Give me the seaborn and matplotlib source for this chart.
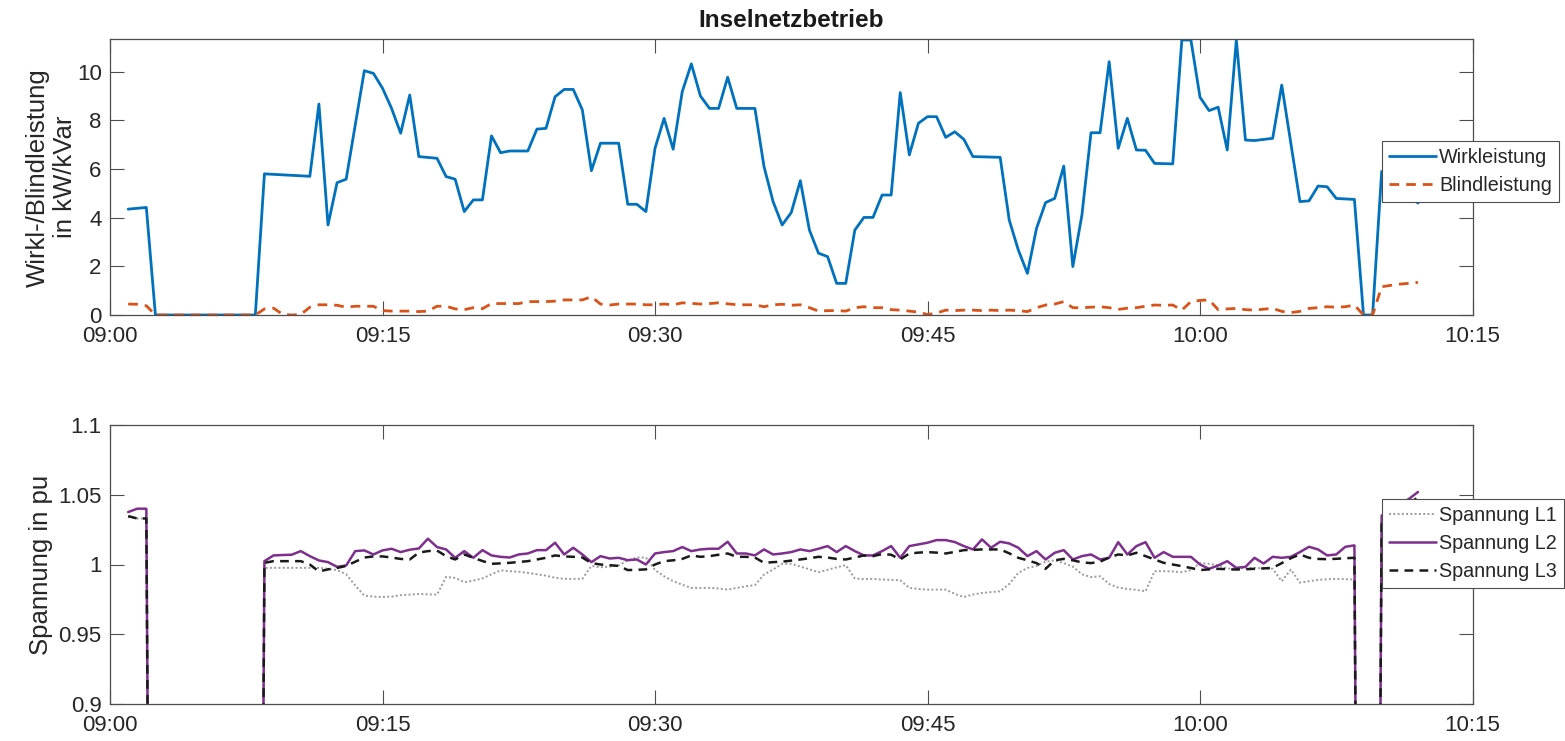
import numpy as np
import pandas as pd
import matplotlib
matplotlib.use('Agg')
import matplotlib.pyplot as plt
import matplotlib.dates as mdates
import seaborn as sns

sns.set_theme(style='white')
plt.rcParams['font.family'] = ['Liberation Sans', 'DejaVu Sans']

start = pd.Timestamp('2021-06-01 09:00')

# Wirkleistung (kW), Minuten nach 09:00
t_p = [1.0, 2.0, 2.5, 8.0, 8.5, 11.0, 11.5, 12.0, 12.5, 13.0, 14.0, 14.5, 15.0, 15.5,
       16.0, 16.5, 17.0, 18.0, 18.5, 19.0, 19.5, 20.0, 20.5, 21.0, 21.5, 22.0, 23.0,
       23.5, 24.0, 24.5, 25.0, 25.5, 26.0, 26.5, 27.0, 28.0, 28.5, 29.0, 29.5, 30.0,
       30.5, 31.0, 31.5, 32.0, 32.5, 33.0, 33.5, 34.0, 34.5, 35.5, 36.0, 36.5, 37.0,
       37.5, 38.0, 38.5, 39.0, 39.5, 40.0, 40.5, 41.0, 41.5, 42.0, 42.5, 43.0, 43.5,
       44.0, 44.5, 45.0, 45.5, 46.0, 46.5, 47.0, 47.5, 49.0, 49.5, 50.0, 50.5, 51.0,
       51.5, 52.0, 52.5, 53.0, 53.5, 54.0, 54.5, 55.0, 55.5, 56.0, 56.5, 57.0, 57.5,
       58.5, 59.0, 59.5, 60.0, 60.5, 61.0, 61.5, 62.0, 62.5, 63.0, 64.0, 64.5, 65.0,
       65.5, 66.0, 66.5, 67.0, 67.5, 68.5, 69.0, 69.5, 70.0, 72.0]
wirk = [4.35, 4.42, 0, 0, 5.8, 5.7, 8.67, 3.7, 5.44, 5.58, 10.04, 9.93, 9.32, 8.49,
        7.47, 9.04, 6.51, 6.44, 5.69, 5.58, 4.25, 4.73, 4.73, 7.36, 6.67, 6.74, 6.74,
        7.64, 7.67, 8.97, 9.27, 9.27, 8.43, 5.93, 7.06, 7.06, 4.55, 4.55, 4.25, 6.85,
        8.08, 6.81, 9.18, 10.32, 9.0, 8.49, 8.49, 9.77, 8.49, 8.49, 6.10, 4.66, 3.70,
        4.21, 5.52, 3.49, 2.54, 2.40, 1.30, 1.30, 3.49, 4.01, 4.01, 4.93, 4.93, 9.14,
        6.58, 7.88, 8.15, 8.15, 7.30, 7.53, 7.22, 6.51, 6.48, 3.90, 2.67, 1.71, 3.56,
        4.62, 4.79, 6.12, 1.99, 4.11, 7.49, 7.49, 10.41, 6.85, 8.08, 6.78, 6.77, 6.23,
        6.21, 11.3, 11.3, 8.95, 8.40, 8.54, 6.78, 11.3, 7.19, 7.17, 7.26, 9.45, 7.06,
        4.66, 4.69, 5.30, 5.27, 4.79, 4.75, 0, 0, 5.9, 4.6]

# Blindleistung (kVar)
t_q = [1.0, 1.5, 2.0, 2.5, 8.0, 8.5, 9.0, 9.5, 10.0, 10.5, 11.0, 11.5, 12.0, 12.5,
       13.0, 13.5, 14.0, 14.5, 15.0, 15.5, 16.0, 16.5, 17.0, 17.5, 18.0, 18.5, 19.0,
       19.5, 20.0, 20.5, 21.0, 21.5, 22.0, 22.5, 23.0, 23.5, 24.0, 24.5, 25.0, 25.5,
       26.0, 26.5, 27.0, 27.5, 28.0, 28.5, 29.0, 29.5, 30.0, 30.5, 31.0, 31.5, 32.0,
       32.5, 33.0, 33.5, 34.0, 34.5, 35.0, 35.5, 36.0, 36.5, 37.0, 37.5, 38.0, 38.5,
       39.0, 39.5, 40.0, 40.5, 41.0, 41.5, 42.0, 42.5, 43.0, 43.5, 44.0, 44.5, 45.0,
       45.5, 46.0, 46.5, 47.0, 47.5, 48.0, 48.5, 49.0, 49.5, 50.0, 50.5, 51.0, 51.5,
       52.0, 52.5, 53.0, 53.5, 54.0, 54.5, 55.0, 55.5, 56.0, 56.5, 57.0, 57.5, 58.0,
       58.5, 59.0, 59.5, 60.0, 60.5, 61.0, 61.5, 62.0, 62.5, 63.0, 63.5, 64.0, 64.5,
       65.0, 65.5, 66.0, 66.5, 67.0, 67.5, 68.0, 68.5, 69.0, 69.5, 70.0, 70.5, 71.0,
       71.5, 72.0]
blind = [0.45, 0.44, 0.38, 0, 0, 0.25, 0.28, 0.03, 0.0, 0.02, 0.32, 0.42, 0.42, 0.40,
         0.32, 0.36, 0.36, 0.36, 0.18, 0.16, 0.16, 0.16, 0.14, 0.16, 0.36, 0.36, 0.25,
         0.22, 0.30, 0.26, 0.47, 0.47, 0.47, 0.47, 0.55, 0.55, 0.55, 0.57, 0.62, 0.62,
         0.62, 0.75, 0.45, 0.41, 0.45, 0.45, 0.45, 0.42, 0.42, 0.45, 0.42, 0.50, 0.48,
         0.45, 0.47, 0.50, 0.46, 0.42, 0.42, 0.42, 0.34, 0.42, 0.44, 0.40, 0.42, 0.30,
         0.16, 0.18, 0.18, 0.16, 0.30, 0.34, 0.30, 0.30, 0.22, 0.20, 0.16, 0.12, 0.02,
         0.08, 0.20, 0.18, 0.20, 0.20, 0.18, 0.20, 0.18, 0.20, 0.18, 0.14, 0.30, 0.41,
         0.45, 0.55, 0.30, 0.30, 0.32, 0.34, 0.30, 0.23, 0.28, 0.30, 0.36, 0.41, 0.40,
         0.41, 0.20, 0.55, 0.60, 0.62, 0.22, 0.25, 0.27, 0.22, 0.20, 0.24, 0.27, 0.15,
         0.10, 0.15, 0.27, 0.30, 0.34, 0.32, 0.34, 0.41, 0, 0, 1.16, 1.22, 1.27,
         1.30, 1.34]

# Spannungen (pu)
t_u = [1.0, 1.5, 2.0, 2.5, 8.0, 8.5, 9.0, 9.5, 10.0, 10.5, 11.0, 11.5, 12.0, 12.5,
       13.0, 13.5, 14.0, 14.5, 15.0, 15.5, 16.0, 16.5, 17.0, 17.5, 18.0, 18.5, 19.0,
       19.5, 20.0, 20.5, 21.0, 21.5, 22.0, 22.5, 23.0, 23.5, 24.0, 24.5, 25.0, 25.5,
       26.0, 26.5, 27.0, 27.5, 28.0, 28.5, 29.0, 29.5, 30.0, 30.5, 31.0, 31.5, 32.0,
       32.5, 33.0, 33.5, 34.0, 34.5, 35.0, 35.5, 36.0, 36.5, 37.0, 37.5, 38.0, 38.5,
       39.0, 39.5, 40.0, 40.5, 41.0, 41.5, 42.0, 42.5, 43.0, 43.5, 44.0, 44.5, 45.0,
       45.5, 46.0, 46.5, 47.0, 47.5, 48.0, 48.5, 49.0, 49.5, 50.0, 50.5, 51.0, 51.5,
       52.0, 52.5, 53.0, 53.5, 54.0, 54.5, 55.0, 55.5, 56.0, 56.5, 57.0, 57.5, 58.0,
       58.5, 59.0, 59.5, 60.0, 60.5, 61.0, 61.5, 62.0, 62.5, 63.0, 63.5, 64.0, 64.5,
       65.0, 65.5, 66.0, 66.5, 67.0, 67.5, 68.0, 68.5, 69.0, 69.5, 70.0, 70.5, 71.0,
       71.5, 72.0]
u_l1 = [1.034, 1.033, 1.033, 0, 0, 0.9976, 0.9976, 0.9976, 0.9976, 0.9976, 0.9976,
        0.9976, 0.9969, 0.9960, 0.9930, 0.9850, 0.9777, 0.9770, 0.9767, 0.9770, 0.9780,
        0.9784, 0.9789, 0.9786, 0.9784, 0.9911, 0.9904, 0.9873, 0.9885, 0.9900, 0.9930,
        0.9958, 0.9952, 0.9948, 0.9940, 0.9930, 0.9920, 0.9905, 0.9897, 0.9897, 0.9897,
        0.9990, 0.9980, 0.9985, 0.9993, 1.0030, 1.0050, 1.0050, 0.9960, 0.9916, 0.9880,
        0.9855, 0.9832, 0.9832, 0.9832, 0.9828, 0.9820, 0.9832, 0.9844, 0.9852, 0.9928,
        0.9964, 1.0005, 1.0005, 0.9985, 0.9965, 0.9945, 0.9962, 0.9980, 0.9995, 0.9900,
        0.9895, 0.9897, 0.9892, 0.9890, 0.9887, 0.9832, 0.9825, 0.9820, 0.9820, 0.9820,
        0.9790, 0.9767, 0.9785, 0.9796, 0.9802, 0.9808, 0.9860, 0.9940, 0.9975, 0.9990,
        1.0020, 1.0030, 1.0010, 0.9985, 0.9930, 0.9910, 0.9916, 0.9860, 0.9835, 0.9825,
        0.9818, 0.9808, 0.9952, 0.9952, 0.9950, 0.9945, 0.9960, 1.0010, 1.0005, 0.9995,
        0.9970, 0.9972, 0.9974, 0.9976, 0.9972, 0.9969, 0.9880, 0.9964, 0.9870, 0.9880,
        0.9890, 0.9894, 0.9897, 0.9895, 0.9892, 0, 0, 1.030, 1.034, 1.038, 1.042, 1.045]
u_l2 = [1.0376, 1.040, 1.040, 0, 0, 1.0024, 1.0065, 1.0068, 1.0070, 1.0096, 1.0060,
        1.0029, 1.0017, 0.9983, 0.9993, 1.0096, 1.0101, 1.0072, 1.0101, 1.0113, 1.0089,
        1.0106, 1.0115, 1.0185, 1.0125, 1.0108, 1.0048, 1.0096, 1.0048, 1.0103, 1.0065,
        1.0055, 1.0050, 1.0072, 1.0079, 1.0103, 1.0103, 1.0156, 1.0072, 1.0120, 1.0072,
        1.0017, 1.0060, 1.0043, 1.0048, 1.0031, 1.0036, 1.0000, 1.0079, 1.0089, 1.0096,
        1.0125, 1.0096, 1.0108, 1.0113, 1.0113, 1.0163, 1.0079, 1.0079, 1.0065, 1.0108,
        1.0072, 1.0079, 1.0089, 1.0108, 1.0096, 1.0113, 1.0132, 1.0089, 1.0132, 1.0096,
        1.0065, 1.0065, 1.0096, 1.0132, 1.0048, 1.0132, 1.0144, 1.0156, 1.0175, 1.0175,
        1.0161, 1.0132, 1.0108, 1.0180, 1.0120, 1.0163, 1.0151, 1.0120, 1.0060, 1.0096,
        1.0036, 1.0084, 1.0103, 1.0036, 1.0060, 1.0072, 1.0036, 1.0048, 1.0160, 1.0072,
        1.0132, 1.0160, 1.0048, 1.0089, 1.0055, 1.0055, 1.0055, 1.0000, 0.9969, 0.9993,
        1.0024, 0.9976, 0.9983, 1.0048, 1.0007, 1.0055, 1.0048, 1.0055, 1.0089, 1.0127,
        1.0108, 1.0065, 1.0072, 1.0127, 1.0137, 0, 0, 1.035, 1.040, 1.043, 1.047, 1.052]
u_l3 = [1.0347, 1.033, 1.033, 0, 0, 1.0012, 1.0024, 1.0024, 1.0024, 1.0024, 1.0000,
        0.9950, 0.9965, 0.9975, 0.9990, 1.0020, 1.0050, 1.0058, 1.0058, 1.0050, 1.0040,
        1.0036, 1.0085, 1.0096, 1.0100, 1.0060, 1.0036, 1.0072, 1.0048, 1.0025, 1.0005,
        1.0008, 1.0012, 1.0018, 1.0024, 1.0036, 1.0048, 1.0065, 1.0058, 1.0055, 1.0050,
        1.0010, 1.0000, 0.9995, 0.9990, 0.9960, 0.9962, 0.9965, 1.0000, 1.0024, 1.0030,
        1.0040, 1.0065, 1.0055, 1.0060, 1.0070, 1.0079, 1.0055, 1.0055, 1.0050, 1.0012,
        1.0017, 1.0020, 1.0028, 1.0036, 1.0045, 1.0055, 1.0050, 1.0040, 1.0036, 1.0050,
        1.0065, 1.0060, 1.0075, 1.0070, 1.0036, 1.0079, 1.0085, 1.0089, 1.0085, 1.0079,
        1.0090, 1.0103, 1.0105, 1.0108, 1.0108, 1.0108, 1.0080, 1.0048, 1.0030, 1.0010,
        0.9969, 1.0030, 1.0040, 1.0030, 1.0015, 1.0010, 1.0020, 1.0050, 1.0072, 1.0065,
        1.0084, 1.0060, 1.0036, 1.0012, 1.0000, 0.9988, 0.9975, 0.9960, 0.9965, 0.9969,
        0.9966, 0.9964, 0.9966, 0.9969, 0.9972, 0.9976, 1.0010, 1.0045, 1.0072, 1.0048,
        1.0040, 1.0038, 1.0041, 1.0045, 1.0048, 0, 0, 1.033, 1.036, 1.040, 1.044, 1.048]


def to_time(mins):
    return start + pd.to_timedelta(mins, unit='min')


df_p = pd.DataFrame({'Zeit': to_time(t_p), 'P': wirk})
df_q = pd.DataFrame({'Zeit': to_time(t_q), 'Q': blind})
df_u = pd.DataFrame({'Zeit': to_time(t_u), 'L1': u_l1, 'L2': u_l2, 'L3': u_l3})

W, H = 1565, 741
fig = plt.figure(figsize=(W / 100, H / 100), dpi=100)
ax1 = fig.add_axes([110 / W, 1 - 315 / H, 1362.5 / W, (315 - 39.3) / H])
ax2 = fig.add_axes([110 / W, 1 - 704 / H, 1362.5 / W, (704 - 425) / H])

sns.lineplot(data=df_p, x='Zeit', y='P', ax=ax1, color='#0072BD', lw=2.0,
             estimator=None, label='Wirkleistung')
sns.lineplot(data=df_q, x='Zeit', y='Q', ax=ax1, color='#D95319', lw=2.0,
             linestyle=(0, (3.5, 2.5)), estimator=None, label='Blindleistung')

sns.lineplot(data=df_u, x='Zeit', y='L1', ax=ax2, color='#9a9a9a', lw=1.4,
             linestyle=(0, (1, 1.2)), estimator=None, label='Spannung L1')
sns.lineplot(data=df_u, x='Zeit', y='L2', ax=ax2, color='#7E2F8E', lw=1.8,
             estimator=None, label='Spannung L2')
sns.lineplot(data=df_u, x='Zeit', y='L3', ax=ax2, color='#1a1a1a', lw=1.8,
             linestyle=(0, (3.5, 2.5)), estimator=None, label='Spannung L3')

xticks = to_time([0, 15, 30, 45, 60, 75])
for ax in (ax1, ax2):
    ax.set_xlim(xticks[0], xticks[-1])
    ax.set_xticks(xticks)
    ax.xaxis.set_major_formatter(mdates.DateFormatter('%H:%M'))
    ax.set_xlabel('')
    ax.tick_params(direction='in', length=9.8, width=0.8, color='#4d4d4d',
                   labelcolor='#262626', labelsize=16, top=True, right=True,
                   bottom=True, left=True)
    ax.tick_params(axis='x', pad=8)
    ax.tick_params(axis='y', pad=6)
    for s in ax.spines.values():
        s.set_color('#4d4d4d')
        s.set_linewidth(0.9)
        s.set_visible(True)

ax1.set_ylim(0, 11.33)
ax1.set_yticks([0, 2, 4, 6, 8, 10])
ax1.set_ylabel('Wirkl-/Blindleistung\nin kW/kVar', fontsize=18.5, color='#262626',
               linespacing=1.15)
ax1.yaxis.set_label_coords(-0.0245, 0.5)
ax1.set_title('Inselnetzbetrieb', fontsize=17.5, fontweight='bold', color='#1a1a1a', pad=9)

ax2.set_ylim(0.9, 1.1)
ax2.set_yticks([0.9, 0.95, 1.0, 1.05, 1.1])
ax2.set_yticklabels(['0.9', '0.95', '1', '1.05', '1.1'])
ax2.set_ylabel('Spannung in pu', fontsize=18.5, color='#262626')
ax2.yaxis.set_label_coords(-0.042, 0.5)

leg_kw = dict(loc='upper left', bbox_transform=fig.transFigure, fontsize=14.2,
              frameon=True, fancybox=False, framealpha=1, edgecolor='#4d4d4d',
              borderaxespad=0, borderpad=0.35, handlelength=2.4,
              handletextpad=0.15, labelspacing=0.45)
leg1 = ax1.legend(bbox_to_anchor=(1382 / W, 1 - 141 / H), **leg_kw)
leg2 = ax2.legend(bbox_to_anchor=(1382 / W, 1 - 499 / H), **leg_kw)
for leg in (leg1, leg2):
    leg.get_frame().set_linewidth(0.8)
    for txt in leg.get_texts():
        txt.set_color('#262626')

fig.savefig('out.png', dpi=100)
